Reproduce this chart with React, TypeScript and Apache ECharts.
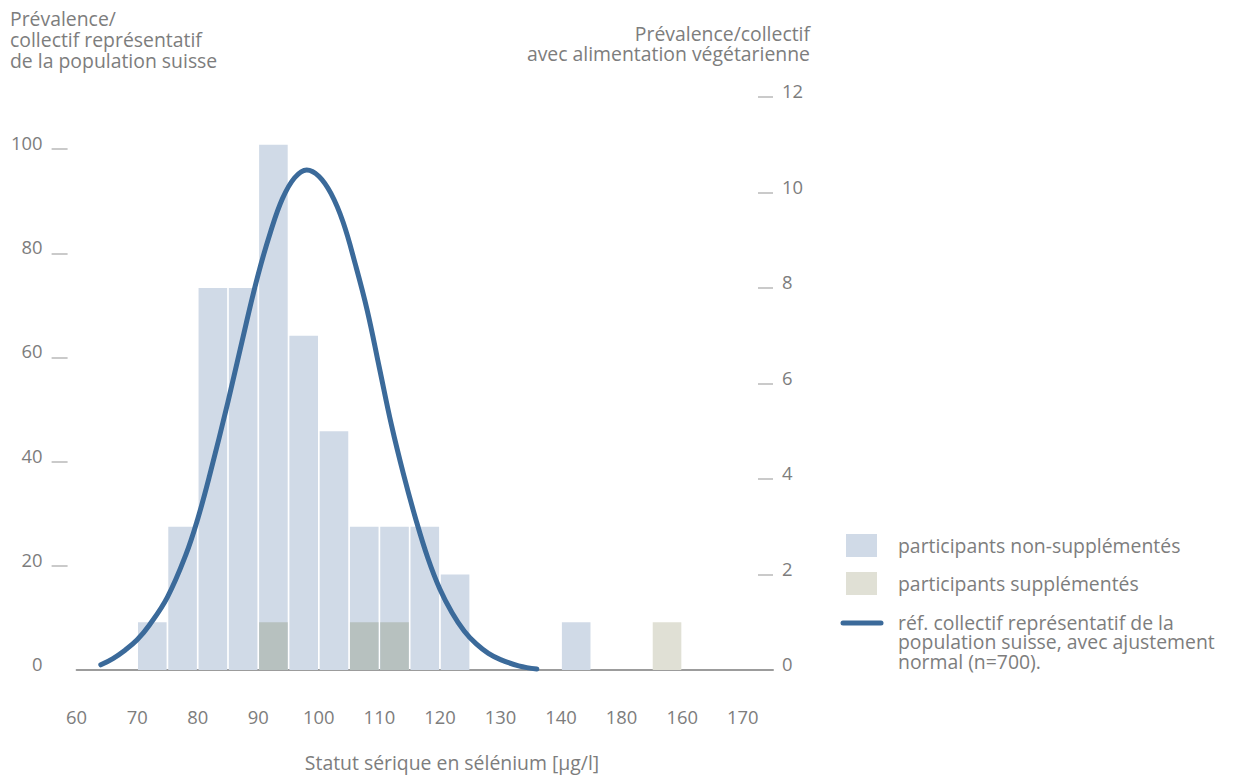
import React, { useEffect, useRef } from "react";
import * as echarts from "echarts";

// x tick labels as printed (60 … 170, with "180" printed at the 150 position)
const xTickValues = [60, 70, 80, 90, 100, 110, 120, 130, 140, 150, 160, 170];
const xTickLabels = ["60", "70", "80", "90", "100", "110", "120", "130", "140", "180", "160", "170"];

// histogram bins (start of 5 µg/l bin) – vegetarian collective, right axis
const binStarts = [70, 75, 80, 85, 90, 95, 100, 105, 110, 115, 120, 140];
const nonSupplemented = [1, 3, 8, 8, 11, 7, 5, 3, 3, 3, 2, 1];

const suppBinStarts = [90, 105, 110, 155];
const supplemented = [1, 1, 1, 1];

// reference population curve (left axis)
const curveX = [64, 66, 68, 70, 72, 75, 78, 80, 82, 85, 88, 90, 92, 94, 96, 98, 100, 102, 104, 106, 108, 110, 112, 114, 116, 118, 120, 122, 124, 126, 128, 130, 133, 136];
const curveY = [1, 2.2, 3.8, 5.8, 8.6, 14, 22, 29, 37.5, 51.5, 66.5, 76, 84, 90.5, 94.5, 96, 94.8, 91.5, 86, 78, 69, 58, 47, 37.5, 29, 21.5, 15.5, 11, 7.5, 5, 3.2, 2, 0.8, 0.2];

const leftTicks = [20, 40, 60, 80, 100];
const rightTicks = [2, 4, 6, 8, 10, 12];

const leftTitle = ["Prévalence/", "collectif représentatif", "de la population suisse"];
const rightTitle = ["Prévalence/collectif", "avec alimentation végétarienne"];
const xTitle = "Statut sérique en sélénium [µg/l]";
const legendNames = ["participants non-supplémentés", "participants supplémentés"];
const legendLineName = ["réf. collectif représentatif de la", "population suisse, avec ajustement", "normal (n=700)."];

const BIN = 5;
const FONT = "'Open Sans', 'Noto Sans', sans-serif";
const TXT = "#7d7d7d";
const BLUE_BAR = "#d0dae7";
const GREY_BAR = "#b7c1bf";
const BEIGE_BAR = "#e0e0d5";
const LINE = "#3b6a9a";
const FS = 19.4;
const AFS = 18.4;

export default function App() {
  const ref = useRef<HTMLDivElement>(null);
  useEffect(() => {
    if (!ref.current) return;
    const chart = echarts.init(ref.current, null, { renderer: "svg" });
    const nonSuppData = binStarts.map((b, i) => [b + BIN / 2, nonSupplemented[i]]);
    const suppData = suppBinStarts.map((b, i) => {
      const overlaps = binStarts.indexOf(b) >= 0;
      return {
        value: [b + BIN / 2, supplemented[i]],
        itemStyle: { color: overlaps ? GREY_BAR : BEIGE_BAR },
      };
    });
    const curveData = curveX.map((x, i) => [x, curveY[i]]);

    const textStyle = (t: string) => ({ text: t, fill: TXT, font: `${FS}px ${FONT}` });

    const graphics: any[] = [];
    leftTitle.forEach((t, i) => {
      graphics.push({
        type: "text",
        x: 10,
        y: 18 + i * 21,
        style: { ...textStyle(t), verticalAlign: "middle" },
      });
    });
    rightTitle.forEach((t, i) => {
      graphics.push({
        type: "text",
        x: 810,
        y: 33 + i * 20.5,
        style: { ...textStyle(t), align: "right", verticalAlign: "middle" },
      });
    });
    graphics.push({
      type: "text",
      x: 452,
      y: 762,
      style: { ...textStyle(xTitle), align: "center", verticalAlign: "middle" },
    });
    graphics.push({ type: "rect", shape: { x: 846, y: 534, width: 31, height: 23 }, style: { fill: BLUE_BAR } });
    graphics.push({ type: "rect", shape: { x: 846, y: 572, width: 31, height: 23 }, style: { fill: BEIGE_BAR } });
    graphics.push({
      type: "line",
      shape: { x1: 843, y1: 623, x2: 881, y2: 623 },
      style: { stroke: LINE, lineWidth: 5, lineCap: "round" },
    });
    legendNames.forEach((t, i) => {
      graphics.push({
        type: "text",
        x: 898,
        y: 545 + i * 38,
        style: { ...textStyle(t), verticalAlign: "middle" },
      });
    });
    legendLineName.forEach((t, i) => {
      graphics.push({
        type: "text",
        x: 898,
        y: 622 + i * 19.5,
        style: { ...textStyle(t), verticalAlign: "middle" },
      });
    });

    chart.setOption({
      animation: false,
      textStyle: { fontFamily: FONT },
      grid: { left: 76.6, right: 461, top: 97, bottom: 108 },
      xAxis: {
        type: "value",
        min: 60,
        max: 175,
        interval: 10,
        axisLine: { show: true, lineStyle: { color: "#9c9c9c", width: 2 } },
        axisTick: { show: false },
        splitLine: { show: false },
        axisLabel: {
          margin: 37,
          color: TXT,
          fontSize: AFS,
          fontFamily: FONT,
          formatter: (v: number) => {
            const i = xTickValues.indexOf(v);
            return i >= 0 ? xTickLabels[i] : "";
          },
        },
      },
      yAxis: [
        {
          type: "value",
          min: 0,
          max: 110,
          interval: 20,
          position: "left",
          offset: 9,
          axisLine: { show: false },
          axisTick: {
            show: true,
            length: 16,
            inside: false,
            customValues: leftTicks,
            lineStyle: { color: "#b9b9b9", width: 1.5 },
          },
          splitLine: { show: false },
          axisLabel: {
            margin: 25,
            color: TXT,
            fontSize: AFS,
            fontFamily: FONT,
            verticalAlign: "bottom",
            lineHeight: 13,
            formatter: (v: number) => (v <= 100 ? String(v) : ""),
          },
        },
        {
          type: "value",
          min: 0,
          max: 12,
          interval: 2,
          position: "right",
          axisLine: { show: false },
          axisTick: {
            show: true,
            length: 15,
            inside: true,
            customValues: rightTicks,
            lineStyle: { color: "#b9b9b9", width: 1.5 },
          },
          splitLine: { show: false },
          axisLabel: {
            margin: 9,
            color: TXT,
            fontSize: AFS,
            fontFamily: FONT,
            verticalAlign: "bottom",
            lineHeight: 13,
          },
        },
      ],
      series: [
        {
          name: "participants non-supplémentés",
          type: "bar",
          yAxisIndex: 1,
          barWidth: 28.6,
          barGap: "-100%",
          itemStyle: { color: BLUE_BAR },
          data: nonSuppData,
          z: 1,
        },
        {
          name: "participants supplémentés",
          type: "bar",
          yAxisIndex: 1,
          barWidth: 28.6,
          barGap: "-100%",
          itemStyle: { color: BEIGE_BAR },
          data: suppData,
          z: 2,
        },
        {
          name: "réf. collectif représentatif",
          type: "line",
          yAxisIndex: 0,
          smooth: 0.4,
          showSymbol: false,
          symbol: "none",
          lineStyle: { color: LINE, width: 5, cap: "round", join: "round" },
          data: curveData,
          z: 3,
        },
      ],
      graphic: graphics,
    });
    return () => chart.dispose();
  }, []);
  return (
    <div
      ref={ref}
      style={{ position: "fixed", left: 0, top: 0, width: 1234, height: 778, background: "#fff" }}
    />
  );
}
